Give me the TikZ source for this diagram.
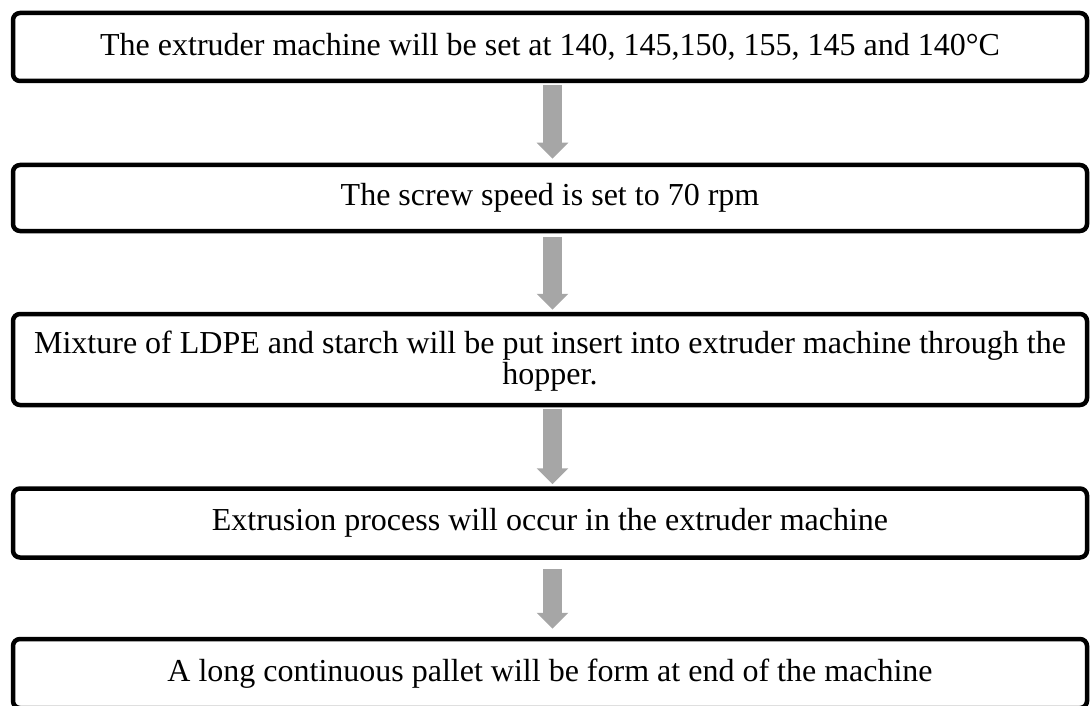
\documentclass[tikz,border=0pt]{standalone}
\usepackage{fontspec}
\setmainfont{Liberation Serif}
\usetikzlibrary{arrows.meta}
\definecolor{arrowgray}{HTML}{A6A6A6}
\tikzset{
  stepbox/.style={draw=black, line width=4.5pt, rounded corners=7pt, fill=white,
    minimum width=1074pt, inner sep=0pt, align=center,
    font=\fontsize{32}{31}\selectfont},
  flowarrow/.style={draw=arrowgray, line width=19pt,
    -{Triangle[width=31pt,length=16pt]}}
}
\begin{document}
\begin{tikzpicture}[x=1pt,y=1pt]
\useasboundingbox (0,0) rectangle (1090,-706);
\node[stepbox, minimum height=68pt] (b1) at (550,-47) {The extruder machine will be set at 140, 145,150, 155, 145 and 140°C};
\node[stepbox, minimum height=66pt] (b2) at (550,-198) {The screw speed is set to 70 rpm};
\node[stepbox, minimum height=91pt] (b3) at (550,-359.5) {\rule{0pt}{26pt}Mixture of LDPE and starch will be put insert into extruder machine through the\\hopper.};
\node[stepbox, minimum height=69pt] (b4) at (550,-523) {Extrusion process will occur in the extruder machine};
\node[stepbox, minimum height=69pt] (b5) at (550,-673.5) {A long continuous pallet will be form at end of the machine};
\draw[flowarrow] ([xshift=2.5pt,yshift=-2pt]b1.south) -- ([xshift=2.5pt,yshift=4pt]b2.north);
\draw[flowarrow] ([xshift=2.5pt,yshift=-4pt]b2.south) -- ([xshift=2.5pt,yshift=2pt]b3.north);
\draw[flowarrow] ([xshift=2.5pt,yshift=-2pt]b3.south) -- ([xshift=2.5pt,yshift=2pt]b4.north);
\draw[flowarrow] ([xshift=2.5pt,yshift=-9pt]b4.south) -- ([xshift=2.5pt,yshift=8pt]b5.north);
\end{tikzpicture}
\end{document}
